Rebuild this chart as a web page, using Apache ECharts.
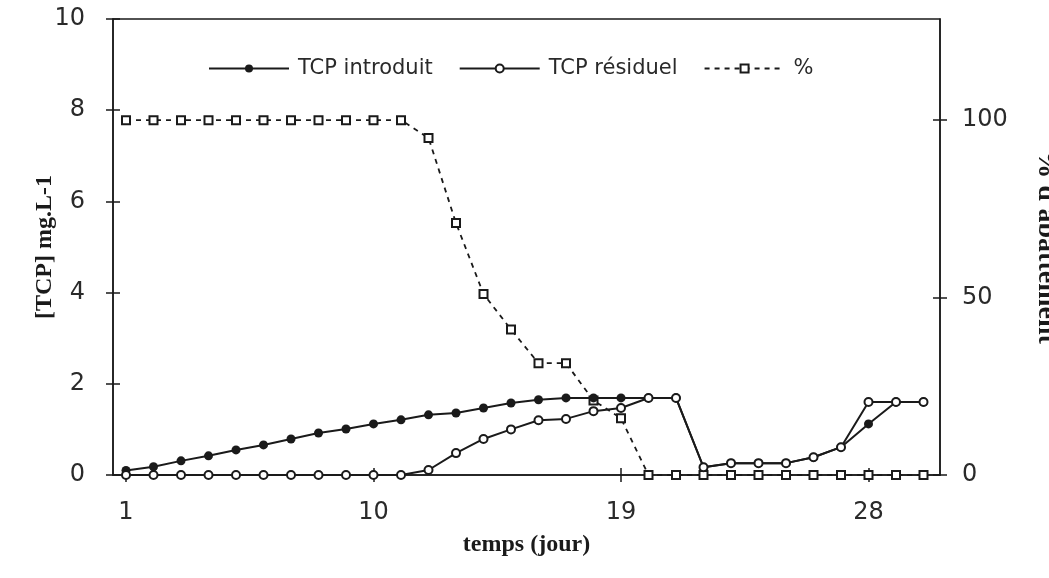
<!DOCTYPE html>
<html>
<head>
<meta charset="utf-8">
<script src="https://cdn.jsdelivr.net/npm/echarts@6/dist/echarts.min.js"></script>
<style>
html,body{margin:0;padding:0;background:#fff;}
#chart{width:1049px;height:578px;}
</style>
</head>
<body>
<div id="chart"></div>
<script>
// ---- data ----
const days = [1,2,3,4,5,6,7,8,9,10,11,12,13,14,15,16,17,18,19,20,21,22,23,24,25,26,27,28,29,30];
const tcpIntroduit = [0.10,0.18,0.31,0.42,0.55,0.66,0.79,0.92,1.01,1.12,1.21,1.32,1.36,1.47,1.58,1.65,1.69,1.69,1.69,1.69,1.69,0.17,0.26,0.26,0.26,0.39,0.61,1.12,1.60,1.60];
const tcpResiduel = [0,0,0,0,0,0,0,0,0,0,0,0.11,0.48,0.79,1.00,1.20,1.23,1.40,1.47,1.69,1.69,0.17,0.26,0.26,0.26,0.39,0.61,1.60,1.60,1.60];
const abattement = [100,100,100,100,100,100,100,100,100,100,100,95,71,51,41,31.5,31.5,21,16,0,0,0,0,0,0,0,0,0,0,0];
const xTicks = [1,10,19,28];
const leftTicks = [0,2,4,6,8,10];
const rightTicks = [0,50,100];
const seriesNames = ['TCP introduit','TCP résiduel','%'];

const pair = (ys) => days.map((d,i) => [d, ys[i]]);
const ink = '#1a1a1a';
const tickFont = {fontFamily:'DejaVu Sans', fontSize:24, color:'#2a2a2a'};
const nameFont = {fontFamily:'Liberation Serif', fontWeight:'bold', fontSize:24, color:ink};

const chart = echarts.init(document.getElementById('chart'), null, {renderer:'canvas'});
chart.setOption({
  backgroundColor:'#fff',
  animation:false,
  grid:{left:113, right:109, top:19, bottom:103, containLabel:false, outerBoundsMode:'none',
        show:true, borderColor:ink, borderWidth:1.5, backgroundColor:'transparent'},
  legend:{
    left:208, top:58, padding:0, itemWidth:80, itemHeight:10, itemGap:26,
    data:seriesNames,
    textStyle:{fontFamily:'DejaVu Sans', fontSize:21, color:'#2a2a2a', padding:[0,0,0,4]}
  },
  xAxis:[{
    type:'value', min:0.527, max:30.6, position:'bottom',
    name:'temps (jour)', nameLocation:'middle', nameGap:58, nameMoveOverlap:false,
    nameTextStyle:nameFont,
    axisLine:{onZero:false, lineStyle:{color:ink, width:1.5}},
    axisTick:{customValues:xTicks, length:7, lineStyle:{color:ink, width:1.5}},
    axisLabel:Object.assign({customValues:xTicks, margin:26}, tickFont),
    splitLine:{show:false}
  },{
    type:'value', min:0.527, max:30.6, position:'bottom',
    axisLine:{show:false},
    axisTick:{customValues:xTicks, inside:true, length:7, lineStyle:{color:ink, width:1.5}},
    axisLabel:{show:false}, splitLine:{show:false}
  }],
  yAxis:[{
    type:'value', min:0, max:10, interval:2, position:'left',
    name:'[TCP] mg.L-1', nameLocation:'middle', nameGap:56, nameRotate:90, nameMoveOverlap:false,
    nameTextStyle:nameFont,
    axisLine:{show:true, onZero:false, lineStyle:{color:ink, width:1.5}},
    axisTick:{length:7, lineStyle:{color:ink, width:1.5}},
    axisLabel:Object.assign({margin:28}, tickFont),
    splitLine:{show:false}
  },{
    type:'value', min:0, max:128.5, position:'right',
    name:"% d'abattement", nameLocation:'middle', nameGap:92, nameRotate:-90, nameMoveOverlap:false,
    nameTextStyle:Object.assign({}, nameFont, {fontSize:28}),
    axisLine:{show:true, onZero:false, lineStyle:{color:ink, width:1.5}},
    axisTick:{customValues:rightTicks, length:7, lineStyle:{color:ink, width:1.5}},
    axisLabel:Object.assign({customValues:rightTicks, margin:22}, tickFont),
    splitLine:{show:false}
  },{
    type:'value', min:0, max:10, interval:2, position:'left',
    axisLine:{show:false}, axisTick:{inside:true, length:7, lineStyle:{color:ink, width:1.5}},
    axisLabel:{show:false}, splitLine:{show:false}
  },{
    type:'value', min:0, max:128.5, position:'right',
    axisLine:{show:false}, axisTick:{customValues:rightTicks, inside:true, length:7, lineStyle:{color:ink, width:1.5}},
    axisLabel:{show:false}, splitLine:{show:false}
  }],
  series:[{
    name:seriesNames[2], type:'line', yAxisIndex:1, data:pair(abattement),
    symbol:'emptyRect', symbolSize:8,
    lineStyle:{color:ink, width:1.8, type:[5,5]},
    itemStyle:{color:ink, borderColor:ink, borderWidth:1.6},
    z:2
  },{
    name:seriesNames[0], type:'line', yAxisIndex:0, data:pair(tcpIntroduit),
    symbol:'circle', symbolSize:9,
    lineStyle:{color:ink, width:2},
    itemStyle:{color:ink},
    z:3
  },{
    name:seriesNames[1], type:'line', yAxisIndex:0, data:pair(tcpResiduel),
    symbol:'emptyCircle', symbolSize:8,
    lineStyle:{color:ink, width:2},
    itemStyle:{color:ink, borderColor:ink, borderWidth:1.6},
    z:4
  }]
});
</script>
</body>
</html>
